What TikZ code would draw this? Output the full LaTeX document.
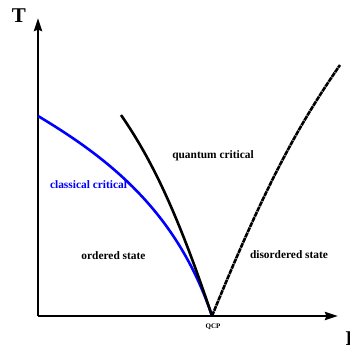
\documentclass[tikz,border=0pt]{standalone}
\usepackage{fontspec}
\setmainfont{Liberation Serif}
\usepackage{tikz}
\usetikzlibrary{arrows.meta}

\tikzset{
  axis/.style={line width=2.6pt,-{Stealth[length=13pt,width=8pt,inset=1.5pt]}},
  phase/.style={line width=2.6pt},
  lbl/.style={font=\fontsize{11.4}{13}\selectfont\bfseries,inner sep=0pt}
}

\begin{document}
\begin{tikzpicture}[x=1pt,y=1pt]
\useasboundingbox (-38,-33) rectangle (312,316);
\coordinate (O) at (0,0);
\coordinate (tmax) at (0,298);
\coordinate (pmax) at (300,0);
\coordinate (qcp) at (174,0);
\coordinate (tc) at (0,200);
\coordinate (qtop) at (83,201);
\coordinate (dtop) at (302,251);
% axes
\draw[axis](O)--(tmax);
\draw[axis](O)--(pmax);
\node[font=\fontsize{21}{24}\selectfont\bfseries] (T) at (-19,300) {T};
\node[font=\fontsize{21}{24}\selectfont\bfseries,anchor=west] (P) at (304,-23) {P};
% phase boundaries
\draw[phase,blue](tc) .. controls (70,158) and (139,105) .. (qcp);
\draw[phase](qtop) .. controls (113,157.5) and (139,105) .. (qcp);
\draw[phase,dash pattern=on 5pt off 0.7pt](qcp) .. controls (229,135) and (262,193) .. (dtop);
% labels
\node[lbl] (qc) at (175,160) {quantum critical};
\node[lbl,blue] (cc) at (50.5,131) {classical critical};
\node[lbl] (ord) at (75.5,60) {ordered state};
\node[lbl] (dis) at (251,61) {disordered state};
\node[font=\fontsize{7}{8}\selectfont\bfseries] (qcplbl) at (175,-11) {QCP};
\end{tikzpicture}
\end{document}
